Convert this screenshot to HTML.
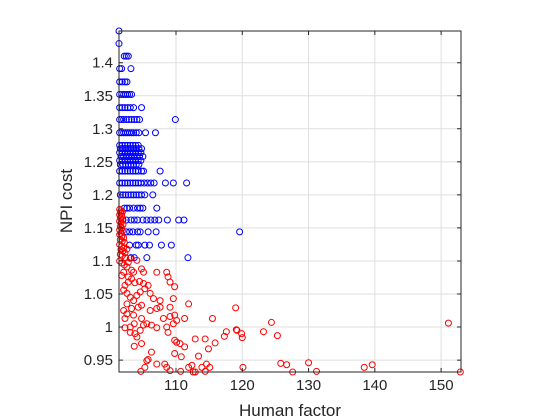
<!DOCTYPE html>
<html><head><meta charset="utf-8"><style>
html,body{margin:0;padding:0;background:#fff;}
svg{display:block;font-family:"Liberation Sans",sans-serif;}
</style></head><body>
<svg id="chart" width="560" height="420">
<rect width="560" height="420" fill="#fff"/>
<g id="grid"></g>
<g id="blue"></g>
<g id="red"></g>
<g id="axes"></g>
<text x="290" y="416" text-anchor="middle" font-size="17" fill="#262626">Human factor</text>
<text transform="translate(72,201) rotate(-90)" text-anchor="middle" font-size="17" fill="#262626">NPI cost</text>
</svg>
<script>
const xTicks=[110,120,130,140,150];
const yTicks=[0.95,1,1.05,1.1,1.15,1.2,1.25,1.3,1.35,1.4];
const yTickLabels=["0.95","1","1.05","1.1","1.15","1.2","1.25","1.3","1.35","1.4"];
const blueX=[101.4,101.4,102.2,102.5,102.8,101.5,101.8,103.2,101.5,101.9,102.3,102.6,
101.5,101.8,102.1,102.4,102.7,103,103.3,101.5,101.9,102.3,102.7,103.1,103.6,104.8,
101.5,101.8,102.1,102.5,102.9,103.3,103.7,104.1,104.5,109.9,
101.5,101.8,102.1,102.4,102.7,103,103.3,103.6,104,104.4,105.4,106.9,
101.5,101.9,102.3,102.7,103.1,103.5,103.9,104.3,101.6,102,102.4,102.8,103.2,103.6,104,104.4,104.8,
101.5,101.9,102.3,102.7,103.1,103.5,103.9,104.3,104.7,101.7,102.1,102.5,102.9,103.3,103.7,104.1,104.5,105,
101.5,101.9,102.3,102.7,103.1,103.5,103.9,104.3,104.7,101.6,102,102.4,102.8,103.2,103.6,104,104.4,
101.5,101.9,102.3,102.7,103.1,103.5,103.9,104.3,104.8,105.1,107.6,
101.5,101.9,102.3,102.7,103.1,103.5,103.9,104.3,104.7,105.2,105.7,106.2,106.7,108.4,109.6,111.6,
101.6,102,102.4,102.8,103.2,103.6,104,104.4,104.8,105.3,106.5,
102.2,102.6,103,103.6,104.2,104.6,105,107.1,
102,102.5,103.2,103.7,104.2,105,105.6,106.2,106.8,107.4,108.7,110.4,111.2,
102.5,103,103.5,104.2,104.6,105.8,107,119.6,
103,104,104.3,105.3,106,107.8,109.3,
103.2,103.7,105.6,111.8];
const blueY=[1.448,1.429,1.41,1.41,1.41,1.391,1.391,1.391,1.371,1.371,1.371,1.371,
1.352,1.352,1.352,1.352,1.352,1.352,1.352,1.332,1.332,1.332,1.332,1.332,1.332,1.332,
1.314,1.314,1.314,1.314,1.314,1.314,1.314,1.314,1.314,1.314,
1.294,1.294,1.294,1.294,1.294,1.294,1.294,1.294,1.294,1.294,1.294,1.294,
1.275,1.275,1.275,1.275,1.275,1.275,1.275,1.275,1.27,1.27,1.27,1.27,1.27,1.27,1.27,1.27,1.27,
1.264,1.264,1.264,1.264,1.264,1.264,1.264,1.264,1.264,1.258,1.258,1.258,1.258,1.258,1.258,1.258,1.258,1.258,
1.252,1.252,1.252,1.252,1.252,1.252,1.252,1.252,1.252,1.246,1.246,1.246,1.246,1.246,1.246,1.246,1.246,
1.236,1.236,1.236,1.236,1.236,1.236,1.236,1.236,1.236,1.236,1.236,
1.218,1.218,1.218,1.218,1.218,1.218,1.218,1.218,1.218,1.218,1.218,1.218,1.218,1.218,1.218,1.218,
1.2,1.2,1.2,1.2,1.2,1.2,1.2,1.2,1.2,1.2,1.2,
1.18,1.18,1.18,1.18,1.18,1.18,1.18,1.18,
1.162,1.162,1.162,1.162,1.162,1.162,1.162,1.162,1.162,1.162,1.162,1.162,1.162,
1.144,1.144,1.144,1.144,1.144,1.144,1.144,1.144,
1.124,1.124,1.124,1.124,1.124,1.124,1.124,
1.105,1.105,1.105,1.105];
const redX=[101.5,101.7,101.9,101.5,101.8,101.6,101.9,101.5,101.7,102,101.6,101.8,101.5,101.9,101.7,
101.5,101.8,102.1,101.6,101.9,102.2,101.5,101.8,102.1,101.7,102,102.3,101.6,101.9,102.4,101.5,101.8,102.2,102.6,101.7,
101.8,102.1,102.6,102.8,103.1,103.3,102.8,103.6,104.1,102.3,102.8,103.3,103.8,104.5,105.1,105.8,107.1,108.6,108.8,109.1,109.8,104.8,105.1,
102.1,102.6,103.1,103.6,104.1,104.6,105.3,106.1,106.6,107.6,109.1,109.6,102.6,103.3,104.3,104.8,106.1,107.1,107.6,109.1,109.8,111.3,111.9,
102.3,102.3,103.1,103.6,104.8,105.1,105.6,104.6,104.1,104.8,103.7,106.3,107.1,108.1,108.6,108.8,109.6,110.1,109.8,110.1,110.6,111.3,110.8,109.8,
112.9,114.4,114.9,115.9,113.4,117.3,117.6,119.1,119.2,119,115.5,119.9,120,120.1,105.6,105.8,105.3,107.1,108.3,108.6,109.1,106.3,104.7,110.7,
111.9,112.4,112.6,112.9,113.9,114.6,115.1,114.4,103.7,103.1,103.8,102.6,102.1,
123.2,124.4,125.3,125.8,126.7,127.6,130,131.2,138.4,139.6,151.1,152.9];
const redY=[1.178,1.176,1.174,1.17,1.168,1.165,1.162,1.16,1.157,1.155,1.152,1.15,1.147,1.145,1.142,
1.14,1.137,1.135,1.132,1.13,1.128,1.125,1.122,1.12,1.117,1.115,1.112,1.11,1.108,1.105,1.1,1.097,1.094,1.118,1.172,
1.078,1.083,1.091,1.098,1.104,1.086,1.076,1.083,1.101,1.063,1.068,1.073,1.067,1.069,1.066,1.063,1.083,1.083,1.076,1.068,1.061,1.088,1.083,
1.056,1.051,1.045,1.04,1.048,1.053,1.058,1.051,1.043,1.04,1.03,1.043,1.035,1.028,1.03,1.033,1.025,1.028,1.03,1.016,1.018,1.013,1.035,
1.013,0.999,1.0,1.018,1.013,1.003,1.005,0.995,0.985,0.975,0.971,1.003,0.999,1.013,1.0,0.992,1.005,1.01,0.98,0.977,0.975,0.97,0.955,0.96,
0.982,0.982,0.967,0.976,0.956,0.986,0.993,0.996,0.995,1.029,1.013,0.99,0.984,0.939,0.949,0.951,0.939,0.944,0.944,0.939,0.934,0.962,0.933,0.933,
0.939,0.942,0.932,0.932,0.939,0.944,0.939,0.933,1.005,0.992,0.99,1.02,1.025,
0.993,1.007,0.987,0.945,0.943,0.932,0.946,0.933,0.939,0.943,1.006,0.932];

const L=119,R=461,T=31,B=372,XMIN=101.4,XMAX=153,YMIN=0.932,YMAX=1.448;
const sx=v=>L+(v-XMIN)/(XMAX-XMIN)*(R-L);
const sy=v=>B-(v-YMIN)/(YMAX-YMIN)*(B-T);
const NS="http://www.w3.org/2000/svg";
function mk(tag,attrs,parent){const e=document.createElementNS(NS,tag);for(const k in attrs)e.setAttribute(k,attrs[k]);parent.appendChild(e);return e;}
const grid=document.getElementById('grid'),axes=document.getElementById('axes');
xTicks.forEach((t,i)=>{
  const x=sx(t);
  const g=mk('line',{x1:x,x2:x,y1:T,y2:B,stroke:'#dfdfdf','stroke-width':1},grid);
  
  
  const tk=mk('path',{d:`M${x},${B}v-4M${x},${T}v4`,stroke:'#262626','stroke-width':1},axes);
  
  
  const tx=mk('text',{x:x,y:B+18,'text-anchor':'middle','font-size':15,fill:'#262626'},axes);
  tx.textContent=String(t);
  
  
});
yTicks.forEach((t,i)=>{
  const y=sy(t);
  const g=mk('line',{x1:L,x2:R,y1:y,y2:y,stroke:'#dfdfdf','stroke-width':1},grid);
  
  
  const tk=mk('path',{d:`M${L},${y}h4M${R},${y}h-4`,stroke:'#262626','stroke-width':1},axes);
  
  
  const tx=mk('text',{x:L-6,y:y+5,'text-anchor':'end','font-size':15,fill:'#262626'},axes);
  tx.textContent=yTickLabels[i];
  
  
});
const box=mk('rect',{x:L,y:T,width:R-L,height:B-T,fill:'none',stroke:'#262626','stroke-width':1},axes);


function plot(xs,ys,color,gid){
  const g=document.getElementById(gid);
  xs.forEach((v,i)=>{
    const c=mk('circle',{cx:sx(v),cy:sy(ys[i]),r:3,fill:'none',stroke:color,'stroke-width':1},g);
    
    
  });
}
plot(blueX,blueY,'#0000ff','blue');
plot(redX,redY,'#ff0000','red');
</script>
</body></html>
